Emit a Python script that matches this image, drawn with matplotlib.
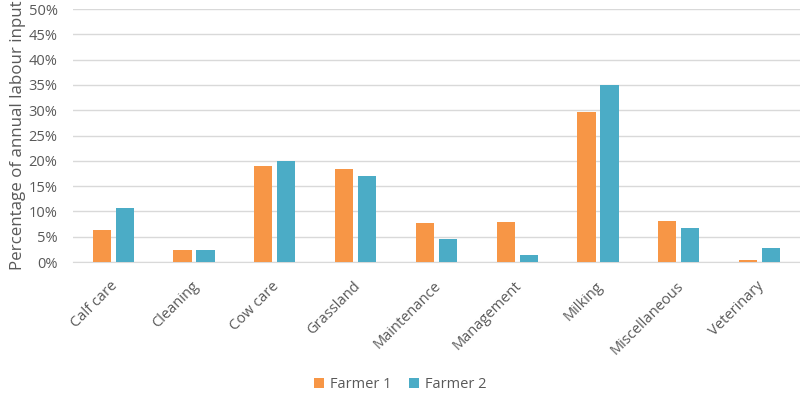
import matplotlib
matplotlib.use("Agg")
import matplotlib.pyplot as plt
import numpy as np
from matplotlib.ticker import FuncFormatter
import matplotlib.transforms as mtransforms

categories = ["Calf care", "Cleaning", "Cow care", "Grassland", "Maintenance",
              "Management", "Milking", "Miscellaneous", "Veterinary"]
farmer1 = [6.3, 2.4, 19.0, 18.4, 7.8, 8.0, 29.6, 8.2, 0.4]
farmer2 = [10.6, 2.4, 20.0, 17.0, 4.5, 1.4, 35.0, 6.8, 2.8]

plt.rcParams['font.family'] = ['Open Sans', 'DejaVu Sans']
text_color = "#595959"

fig = plt.figure(figsize=(8, 4), dpi=100)
ax = fig.add_axes([0.091, 0.345, 0.909, 0.6325])

x = np.arange(len(categories))
w = 0.225
off = 0.143
ax.bar(x - off, farmer1, width=w, color="#F79646", label="Farmer 1", zorder=3)
ax.bar(x + off, farmer2, width=w, color="#4BACC6", label="Farmer 2", zorder=3)

ax.set_xlim(-0.5, len(categories) - 0.5)
ax.set_ylim(0, 50)
ax.set_yticks(np.arange(0, 51, 5))
ax.yaxis.set_major_formatter(FuncFormatter(lambda v, p: f"{int(v)}%"))
ax.grid(axis='y', color="#D9D9D9", linewidth=1, zorder=0)
for s in ["top", "right", "left"]:
    ax.spines[s].set_visible(False)
ax.spines["bottom"].set_color("#D9D9D9")
ax.tick_params(axis='y', length=0, colors=text_color, labelsize=10.5, pad=11)
ax.tick_params(axis='x', length=0, colors=text_color, labelsize=10.5, pad=12)
ax.set_xticks(x)
ax.set_xticklabels(categories, rotation=45, ha='right', rotation_mode='anchor')
shift = mtransforms.ScaledTranslation(-3 / 100, 0, fig.dpi_scale_trans)
for lbl in ax.get_xticklabels():
    lbl.set_transform(lbl.get_transform() + shift)
ax.set_ylabel("Percentage of annual labour input", color=text_color, fontsize=12.2, labelpad=2)

leg = fig.legend(loc='center', bbox_to_anchor=(0.5, 0.038), ncol=2, frameon=False,
                 fontsize=10.5, handlelength=0.7, handleheight=0.7, handletextpad=0.4,
                 columnspacing=1.2)
for t in leg.get_texts():
    t.set_color(text_color)

fig.savefig("out.png", dpi=100)
